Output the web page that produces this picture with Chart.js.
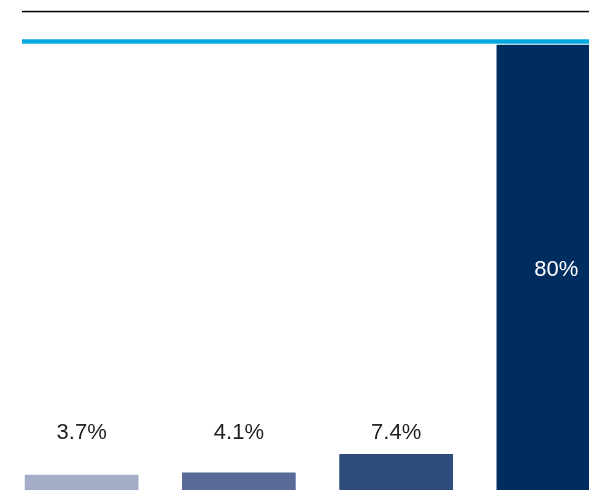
<!DOCTYPE html>
<html>
<head>
<meta charset="utf-8">
<script src="https://cdn.jsdelivr.net/npm/chart.js@4/dist/chart.umd.min.js"></script>
<style>
  html, body { margin: 0; padding: 0; background: #fff; overflow: hidden; width: 589px; height: 490px; }
  #wrap { position: absolute; left: 0; top: 0; width: 636px; height: 497px; }
</style>
</head>
<body>
<div id="wrap"><canvas id="c" width="636" height="497"></canvas></div>
<script>
const categories = ["A", "B", "C", "D"];
const values = [3.7, 4.1, 7.4, 80];
const valueLabels = ["3.7%", "4.1%", "7.4%", "80%"];
const barColors = ["#A5ACC8", "#586A95", "#2D4C7B", "#002D5F"];
const labelLevel = 11.2;

const decorations = {
  id: 'decorations',
  afterDraw(chart) {
    const ctx = chart.ctx;
    ctx.save();
    ctx.fillStyle = '#000000';
    ctx.fillRect(22, 10.8, 589 - 22, 1.5);
    ctx.fillStyle = '#00A9E0';
    ctx.fillRect(22, 39.3, 589 - 22, 4.4);
    ctx.restore();
  }
};

const valueLabelPlugin = {
  id: 'valueLabels',
  afterDatasetsDraw(chart) {
    const ctx = chart.ctx;
    const meta = chart.getDatasetMeta(0);
    const yScale = chart.scales.y;
    ctx.save();
    ctx.font = '22px "Liberation Sans", Arial, sans-serif';
    ctx.textAlign = 'center';
    ctx.textBaseline = 'middle';
    meta.data.forEach((bar, i) => {
      const v = values[i];
      if (v > 50) {
        ctx.fillStyle = '#FFFFFF';
        ctx.fillText(valueLabels[i], bar.x + 3, (bar.y + bar.base) / 2);
      } else {
        ctx.fillStyle = '#222222';
        ctx.fillText(valueLabels[i], bar.x, yScale.getPixelForValue(labelLevel));
      }
    });
    ctx.restore();
  }
};

new Chart(document.getElementById('c'), {
  type: 'bar',
  data: {
    labels: categories,
    datasets: [{
      data: values,
      backgroundColor: barColors,
      borderWidth: 0,
      barPercentage: 0.723,
      categoryPercentage: 1.0
    }]
  },
  options: {
    responsive: false,
    animation: false,
    devicePixelRatio: 1,
    layout: { padding: { left: 3, right: 4, top: 44.5, bottom: 1.3 } },
    plugins: { legend: { display: false }, tooltip: { enabled: false } },
    scales: {
      x: { display: false },
      y: { display: false, min: 0, max: 80 }
    }
  },
  plugins: [decorations, valueLabelPlugin]
});
</script>
</body>
</html>
